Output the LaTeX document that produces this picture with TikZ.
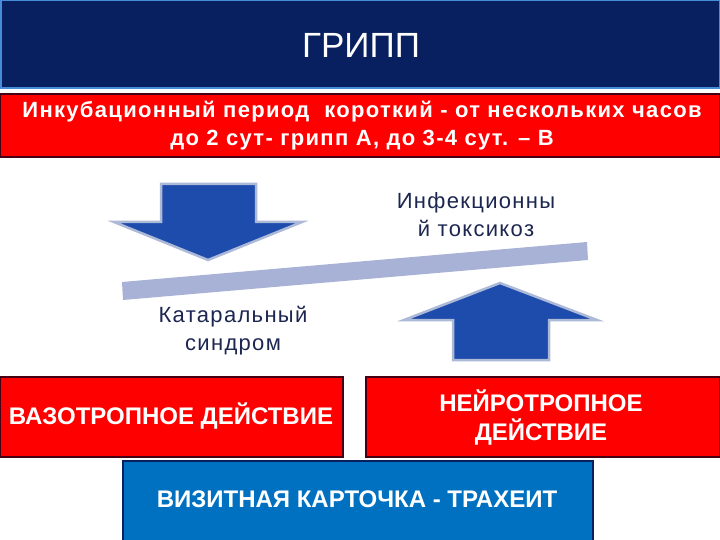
\documentclass[tikz,border=0pt]{standalone}
\usepackage{fontspec}
\setmainfont{Liberation Sans}
\newfontfamily\widefont[LetterSpace=6]{Liberation Sans}
\definecolor{navy}{RGB}{8,32,96}
\definecolor{edgeblue}{RGB}{70,140,215}
\definecolor{alarmred}{RGB}{255,0,0}
\definecolor{arrowblue}{RGB}{30,76,172}
\definecolor{arrowrim}{RGB}{172,186,216}
\definecolor{barblue}{RGB}{168,178,214}
\definecolor{inktext}{RGB}{28,38,80}
\definecolor{cardblue}{RGB}{0,112,192}
\definecolor{redrim}{RGB}{70,0,20}

\begin{document}
\begin{tikzpicture}[
		x=1pt, y=-1pt,
		title band/.style={fill=navy, draw=edgeblue, line width=1.5pt},
		red band/.style={fill=alarmred, draw=redrim, line width=1.5pt},
		block arrow/.style={fill=arrowblue, draw=arrowrim, line width=2.5pt, line join=miter},
		white text/.style={text=white, font=\bfseries\fontsize{24}{29}\selectfont, align=center, inner sep=0pt},
		dark text/.style={text=inktext, font=\widefont\fontsize{22}{28}\selectfont, align=center, inner sep=0pt}
		]
		
		% canvas
		\useasboundingbox[fill=white] (0,0) rectangle (720,540);
		
		% =========================================================
		% Header: title and incubation period
		% =========================================================
		\draw[title band] (0.75,0.75) rectangle (719.25,88);
		\node[text=white, font=\fontsize{35}{40}\selectfont, inner sep=0pt] (title) at (361,45) {ГРИПП};
		
		\draw[red band] (0,94) rectangle (720,157);
		\node[white text, font=\widefont\bfseries\fontsize{22}{28}\selectfont] (incub) at (362,125.5)
			{Инкубационный период\ \ короткий - от нескольких часов\\до 2 сут- грипп А, до 3-4 сут. – В};
		
		% =========================================================
		% Middle: arrows and slanted bar
		% =========================================================
		% Down arrow (left)
		\draw[block arrow] (161,184) -- (256,184) -- (256,222) -- (302,222) -- (208,260)
			-- (114,222) -- (161,222) -- cycle;
		
		% Up arrow (right)
		\draw[block arrow] (453,360) -- (549,360) -- (549,320) -- (597,320) -- (500,283)
			-- (404,320) -- (453,320) -- cycle;
		
		% Slanted bar
		\fill[barblue] (122,282) -- (587,242) -- (588,260) -- (123,300) -- cycle;
		
		% Labels
		\node[dark text] (toxic) at (476,215) {Инфекционны\\й токсикоз};
		\node[dark text] (catarrh) at (233,331) {Катаральный\\синдром};
		
		% =========================================================
		% Bottom: action boxes and tracheitis card
		% =========================================================
		\draw[red band] (0,377) rectangle (343,457);
		\node[white text] (vaso) at (171,416) {ВАЗОТРОПНОЕ ДЕЙСТВИЕ};
		
		\draw[red band] (366,377) rectangle (720,457);
		\node[white text] (neuro) at (541,418) {НЕЙРОТРОПНОЕ\\ДЕЙСТВИЕ};
		
		\draw[fill=cardblue, draw=navy, line width=1.5pt] (123,461) rectangle (593,541);
		\node[white text] (card) at (357,499) {ВИЗИТНАЯ КАРТОЧКА - ТРАХЕИТ};
		
	\end{tikzpicture}
\end{document}
